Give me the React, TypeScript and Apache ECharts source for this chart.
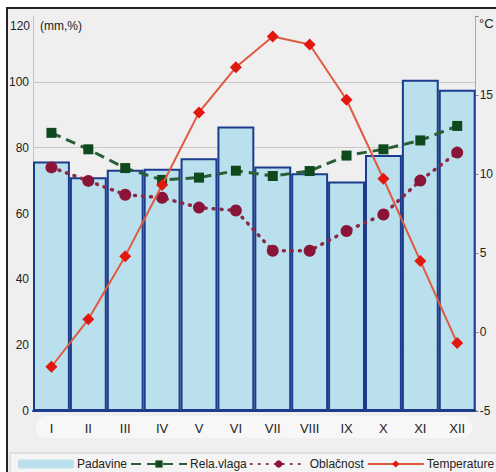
import React, { useEffect, useRef } from "react";
import * as echarts from "echarts";

const months = ["I", "II", "III", "IV", "V", "VI", "VII", "VIII", "IX", "X", "XI", "XII"];
const padavine = [75.8, 71, 73.3, 73.6, 76.8, 86.4, 74.3, 72.2, 69.7, 77.8, 100.6, 97.6];
const vlaga = [84.5, 79.5, 73.8, 70.2, 70.9, 73, 71.4, 72.9, 77.6, 79.5, 82.2, 86.6];
const oblacnost = [74, 69.9, 65.7, 64.8, 61.8, 60.9, 48.7, 48.7, 54.7, 59.7, 70, 78.5];
const temperature = [-2.2, 0.8, 4.8, 9.3, 13.9, 16.75, 18.7, 18.2, 14.7, 9.7, 4.5, -0.7];

export default function App() {
  const ref = useRef<HTMLDivElement>(null);
  useEffect(() => {
    if (!ref.current) return;
    const chart = echarts.init(ref.current, null, { renderer: "svg" });
    const font = "Liberation Sans, Arial, sans-serif";
    chart.setOption({
      animation: false,
      backgroundColor: "#ffffff",
      textStyle: { fontFamily: font },
      graphic: [
        {
          type: "rect",
          z: -10,
          shape: { x: 7, y: 8, width: 495, height: 470 },
          style: { fill: "#efefef", stroke: "#222", lineWidth: 2 },
        },
        {
          type: "rect",
          z: -9,
          shape: { x: 36, y: 416, width: 436, height: 22, r: 10 },
          style: { fill: "#f7f7f7" },
        },
        {
          type: "rect",
          z: -9,
          shape: { x: 10, y: 453, width: 490, height: 25 },
          style: { fill: "#f4f4f4", stroke: "#cfcfcf", lineWidth: 1 },
        },
        {
          type: "text",
          x: 10,
          y: 20,
          style: { text: "120", fontSize: 12, fill: "#222", fontFamily: font },
        },
        {
          type: "text",
          x: 40,
          y: 20,
          style: { text: "(mm,%)", fontSize: 12, fill: "#222", fontFamily: font },
        },
        {
          type: "text",
          x: 479,
          y: 17,
          style: { text: "°C", fontSize: 13, fill: "#222", fontFamily: font },
        },
      ],
      grid: { left: 33, right: 19, top: 16, bottom: 61, containLabel: false },
      legend: {
        left: 18,
        top: 458,
        padding: 0,
        itemWidth: 56,
        itemHeight: 9,
        itemGap: 3,
        textStyle: { fontSize: 12, color: "#222", fontFamily: font, padding: [0, 0, 0, -2] },
        data: [
          { name: "Padavine", itemStyle: { borderWidth: 0, color: "#b9e0ec" } },
          { name: "Rela.vlaga" },
          { name: "Oblačnost" },
          { name: "Temperature" },
        ],
      },
      xAxis: {
        type: "category",
        data: months,
        axisLine: { show: true, lineStyle: { color: "#1b3b8c", width: 2 } },
        axisTick: { show: false },
        axisLabel: { fontSize: 13, color: "#222", margin: 11 },
      },
      yAxis: [
        {
          type: "value",
          min: 0,
          max: 120,
          interval: 20,
          axisLine: { show: true, lineStyle: { color: "#c4c4c4" } },
          axisTick: { show: false },
          axisLabel: {
            fontSize: 12,
            color: "#222",
            margin: 4,
            formatter: (v: number) => (v === 120 ? "" : String(v)),
          },
          splitLine: {
            show: true,
            lineStyle: {
              color: ["#c8c8c8", "#c8c8c8", "#c8c8c8", "#c8c8c8", "#c8c8c8", "#c8c8c8", "rgba(0,0,0,0)"],
              width: 1,
            },
          },
        },
        {
          type: "value",
          min: -5,
          max: 20,
          interval: 5,
          position: "right",
          axisLine: { show: true, lineStyle: { color: "#aaaaaa" } },
          axisTick: { show: true, length: 3, lineStyle: { color: "#888" } },
          axisLabel: {
            fontSize: 12,
            color: "#222",
            margin: 4,
            formatter: (v: number) => (v === 20 ? "" : String(v)),
          },
          splitLine: { show: false },
        },
      ],
      series: [
        {
          name: "Padavine",
          type: "bar",
          data: padavine,
          barCategoryGap: "0%",
          itemStyle: { color: "#b9e0ec", borderColor: "#1b3b8c", borderWidth: 2 },
          z: 2,
        },
        {
          name: "Rela.vlaga",
          type: "line",
          data: vlaga,
          symbol: "rect",
          symbolSize: 10,
          itemStyle: { color: "#0f4a1e" },
          lineStyle: { color: "#2a5e36", width: 3, type: [10, 6] },
          z: 3,
        },
        {
          name: "Oblačnost",
          type: "line",
          data: oblacnost,
          symbol: "circle",
          symbolSize: 12,
          itemStyle: { color: "#8a1538" },
          lineStyle: { color: "#8a2a48", width: 3.5, type: [1, 7], cap: "round" },
          z: 4,
        },
        {
          name: "Temperature",
          type: "line",
          yAxisIndex: 1,
          data: temperature,
          symbol: "diamond",
          symbolSize: 12,
          itemStyle: { color: "#e0180f" },
          lineStyle: { color: "#e05a40", width: 2 },
          z: 5,
        },
      ],
    });
    return () => chart.dispose();
  }, []);
  return (
    <div
      ref={ref}
      style={{ width: 496, height: 472, position: "absolute", left: 0, top: 0 }}
    />
  );
}
